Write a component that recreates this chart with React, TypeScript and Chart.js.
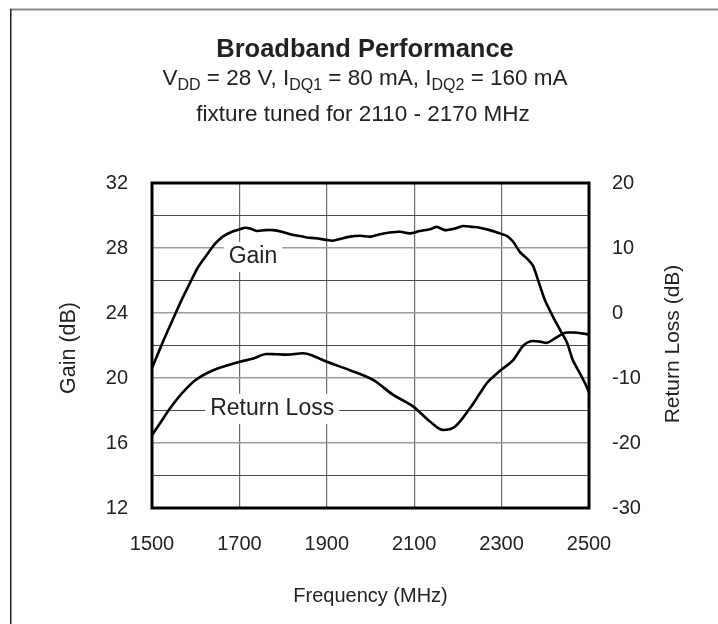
import React, { useEffect, useRef } from "react";
import { Chart, registerables } from "chart.js";

Chart.register(...registerables);

const FONT = "'Liberation Sans', Arial, Helvetica, sans-serif";

// Frequency axis (MHz)
const xTickValues = [1500, 1700, 1900, 2100, 2300, 2500];
// Gain axis tick labels (dB)
const gainTickLabels = [12, 16, 20, 24, 28, 32];
// Return loss axis tick labels (dB)
const rlTickLabels = [-30, -20, -10, 0, 10, 20];

// Gain curve
const gainFreq = [
  1500, 1523, 1546, 1566, 1587, 1605, 1626, 1644, 1662, 1683, 1701, 1713, 1724,
  1740, 1758, 1777, 1797, 1816, 1834, 1855, 1875, 1898, 1914, 1930, 1953, 1976,
  1999, 2022, 2044, 2067, 2090, 2113, 2136, 2152, 2170, 2193, 2211, 2232, 2250,
  2273, 2296, 2312, 2326, 2342, 2360, 2372, 2388, 2399, 2418, 2434, 2450, 2463,
  2479, 2495, 2500,
];
const gainDb = [
  20.6, 22.1, 23.5, 24.7, 25.85, 26.8, 27.6, 28.25, 28.7, 29.0, 29.15, 29.25, 29.2,
  29.05, 29.1, 29.1, 29.0, 28.85, 28.75, 28.65, 28.6, 28.5, 28.45, 28.55, 28.7, 28.75,
  28.7, 28.85, 28.95, 29.0, 28.9, 29.05, 29.15, 29.3, 29.1, 29.2, 29.35, 29.3, 29.25,
  29.1, 28.9, 28.75, 28.4, 27.75, 27.3, 26.9, 25.65, 24.8, 23.75, 22.95, 22.15, 21.1,
  20.3, 19.45, 19.1,
];

// Return loss curve
const rlFreq = [
  1500, 1518, 1541, 1572, 1602, 1640, 1670, 1701, 1732, 1762, 1785, 1808, 1846,
  1869, 1900, 1953, 2006, 2052, 2098, 2136, 2166, 2193, 2227, 2250, 2266, 2281,
  2300, 2327, 2350, 2372, 2388, 2403, 2422, 2449, 2464, 2500,
];
const rlDb = [
  -18.8, -17.0, -14.7, -12.1, -10.2, -8.8, -8.1, -7.5, -7.0, -6.3, -6.35, -6.4, -6.2,
  -6.6, -7.5, -8.8, -10.3, -12.6, -14.4, -16.7, -18.0, -17.5, -14.7, -12.4, -10.8, -9.8,
  -8.7, -7.2, -5.0, -4.3, -4.4, -4.6, -3.9, -3.0, -3.0, -3.3,
];

// Curve labels (position in gain-axis data coordinates)
const curveLabels = [
  { text: "Gain", f: 1731, g: 27.45 },
  { text: "Return Loss", f: 1775, g: 18.1 },
];

const decorPlugin = {
  id: "decor",
  beforeDatasetsDraw(chart: any) {
    const ctx = chart.ctx;
    const xs = chart.scales.x;
    const ys = chart.scales.y;
    ctx.save();
    ctx.font = `23px ${FONT}`;
    for (const l of curveLabels) {
      const w = ctx.measureText(l.text).width;
      const cx = xs.getPixelForValue(l.f);
      const cy = ys.getPixelForValue(l.g);
      ctx.fillStyle = "#fff";
      ctx.fillRect(cx - w / 2 - 5, cy - 15, w + 10, 30);
      ctx.fillStyle = "#222";
      ctx.textAlign = "center";
      ctx.textBaseline = "middle";
      ctx.fillText(l.text, cx, cy);
    }
    ctx.restore();
  },
  afterDraw(chart: any) {
    const ctx = chart.ctx;
    const a = chart.chartArea;
    ctx.save();
    // plot frame
    ctx.strokeStyle = "#000";
    ctx.lineWidth = 3;
    ctx.strokeRect(a.left, a.top, a.right - a.left, a.bottom - a.top);

    // outer figure frame
    ctx.lineWidth = 2;
    ctx.strokeStyle = "#8a8a8a";
    ctx.beginPath();
    ctx.moveTo(10, 9.5);
    ctx.lineTo(chart.width, 9.5);
    ctx.stroke();
    ctx.strokeStyle = "#222";
    ctx.lineWidth = 1.5;
    ctx.beginPath();
    ctx.moveTo(10.75, 9);
    ctx.lineTo(10.75, chart.height);
    ctx.stroke();

    const cxTitle = 365;
    ctx.fillStyle = "#222";
    ctx.textBaseline = "alphabetic";
    ctx.textAlign = "center";
    ctx.font = `bold 25.5px ${FONT}`;
    ctx.fillText("Broadband Performance", cxTitle, 57);

    // subtitle with subscripts
    const mainF = `22.5px ${FONT}`;
    const subF = `16px ${FONT}`;
    const segs: [string, boolean][] = [
      ["V", false], ["DD", true], [" = 28 V, I", false], ["DQ1", true],
      [" = 80 mA, I", false], ["DQ2", true], [" = 160 mA", false],
    ];
    let total = 0;
    for (const [t, s] of segs) {
      ctx.font = s ? subF : mainF;
      total += ctx.measureText(t).width;
    }
    let x = cxTitle - total / 2;
    ctx.textAlign = "left";
    for (const [t, s] of segs) {
      ctx.font = s ? subF : mainF;
      ctx.fillText(t, x, s ? 90 : 85);
      x += ctx.measureText(t).width;
    }
    ctx.textAlign = "center";
    ctx.font = mainF;
    ctx.fillText("fixture tuned for 2110 - 2170 MHz", cxTitle - 2, 121);

    // axis titles
    ctx.textBaseline = "middle";
    ctx.font = `20px ${FONT}`;
    ctx.fillText("Frequency (MHz)", (a.left + a.right) / 2, 596);
    ctx.font = `21.5px ${FONT}`;
    ctx.save();
    ctx.translate(69, 348);
    ctx.rotate(-Math.PI / 2);
    ctx.fillText("Gain (dB)", 0, 0);
    ctx.restore();
    ctx.font = `21px ${FONT}`;
    ctx.save();
    ctx.translate(673, 344);
    ctx.rotate(-Math.PI / 2);
    ctx.fillText("Return Loss (dB)", 0, 0);
    ctx.restore();

    ctx.restore();
  },
};

export default function App() {
  const ref = useRef<HTMLCanvasElement | null>(null);
  useEffect(() => {
    if (!ref.current) return;
    const tickFont = { family: FONT, size: 20 };
    const chart = new Chart(ref.current, {
      type: "line",
      data: {
        datasets: [
          {
            label: "Gain",
            data: gainFreq.map((f, i) => ({ x: f, y: gainDb[i] })),
            yAxisID: "y",
            borderColor: "#000",
            borderWidth: 2.6,
            pointRadius: 0,
            tension: 0.25,
            fill: false,
          },
          {
            label: "Return Loss",
            data: rlFreq.map((f, i) => ({ x: f, y: rlDb[i] })),
            yAxisID: "y2",
            borderColor: "#000",
            borderWidth: 2.6,
            pointRadius: 0,
            cubicInterpolationMode: "monotone",
            fill: false,
          },
        ],
      },
      options: {
        responsive: false,
        animation: false,
        devicePixelRatio: 1,
        layout: { padding: { left: 0, right: 0, top: 183, bottom: 0 } },
        plugins: {
          legend: { display: false },
          title: { display: false },
          tooltip: { enabled: false },
        },
        scales: {
          x: {
            type: "linear",
            min: 1500,
            max: 2500,
            afterFit: (s: any) => { s.height = 116; },
            afterBuildTicks: (s: any) => { s.ticks = xTickValues.map((v) => ({ value: v })); },
            ticks: {
              font: tickFont,
              color: "#222",
              padding: 24,
              maxRotation: 0,
              autoSkip: false,
              callback: (v: any) => String(v),
            },
            grid: { color: "#6a6a6a", lineWidth: 1.2, drawTicks: false },
            border: { display: false },
          },
          y: {
            type: "linear",
            position: "left",
            min: 12,
            max: 32,
            afterFit: (s: any) => { s.width = 152; },
            ticks: {
              stepSize: 2,
              autoSkip: false,
              font: tickFont,
              color: "#222",
              padding: 24,
              callback: (v: any) => (gainTickLabels.includes(Number(v)) ? String(v) : ""),
            },
            grid: {
              drawTicks: false,
              color: (c: any) => (c.tick && c.tick.value % 4 === 0 ? "#9c9c9c" : "#4a4a4a"),
              lineWidth: (c: any) => (c.tick && c.tick.value % 4 === 0 ? 1.6 : 1),
            },
            border: { display: false },
          },
          y2: {
            type: "linear",
            position: "right",
            min: -30,
            max: 20,
            afterFit: (s: any) => { s.width = 129; },
            afterBuildTicks: (s: any) => { s.ticks = rlTickLabels.map((v) => ({ value: v })); },
            ticks: {
              font: tickFont,
              color: "#222",
              padding: 23,
              autoSkip: false,
              callback: (v: any) => String(v),
            },
            grid: { drawOnChartArea: false, drawTicks: false },
            border: { display: false },
          },
        },
      },
      plugins: [decorPlugin],
    } as any);
    return () => chart.destroy();
  }, []);
  return (
    <div style={{ position: "absolute", left: 0, top: 0, width: 718, height: 624, background: "#fff" }}>
      <canvas ref={ref} width={718} height={624} style={{ display: "block" }} />
    </div>
  );
}
